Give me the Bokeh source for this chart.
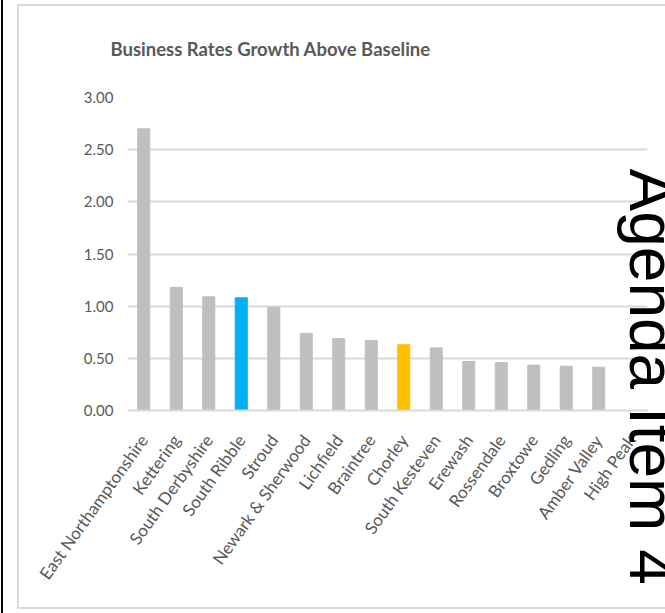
from bokeh.plotting import figure
from bokeh.models import (ColumnDataSource, Range1d, FactorRange, Title,
                          FixedTicker, NumeralTickFormatter)
from bokeh.embed import file_html
from bokeh.resources import INLINE

# ---- data ----
councils = ["East Northamptonshire", "Kettering", "South Derbyshire", "South Ribble",
            "Stroud", "Newark & Sherwood", "Lichfield", "Braintree", "Chorley",
            "South Kesteven", "Erewash", "Rossendale", "Broxtowe", "Gedling",
            "Amber Valley", "High Peak"]
growth = [2.70, 1.18, 1.09, 1.08, 0.99, 0.74, 0.69, 0.67, 0.63,
          0.60, 0.47, 0.46, 0.435, 0.425, 0.415, float("nan")]
y_ticks = [0.0, 0.5, 1.0, 1.5, 2.0, 2.5, 3.0]
title_text = "Business Rates Growth Above Baseline"
stamp_text = "Agenda Item 4"

# ---- styles ----
BAR = "#BFBFBF"
highlight = {"South Ribble": "#00B0F0", "Chorley": "#FFC000"}
TEXT = "#595959"
GRID = "#D9D9D9"
colors = [highlight.get(c, BAR) for c in councils]

src = ColumnDataSource(dict(council=councils, growth=growth, color=colors))

# page decorations (black page edge + light chart border) painted behind the transparent canvas border
page_bg = ", ".join([
    "linear-gradient(#000,#000) 1px 0px / 2px 100% no-repeat",
    f"linear-gradient({GRID},{GRID}) 17px 4px / 2px 605px no-repeat",
    f"linear-gradient({GRID},{GRID}) 17px 4px / 700px 2px no-repeat",
    f"linear-gradient({GRID},{GRID}) 17px 607px / 700px 2px no-repeat",
    "#ffffff",
])

p = figure(x_range=FactorRange(*councils), y_range=Range1d(0, 3),
           width=665, height=613, output_backend="svg", toolbar_location=None,
           min_border_left=127, min_border_right=18,
           min_border_top=97, min_border_bottom=203,
           styles={"background": page_bg})
p.border_fill_alpha = 0

p.vbar(x="council", top="growth", width=0.37, color="color", source=src)

p.outline_line_color = None
p.xgrid.grid_line_color = None
p.ygrid.grid_line_color = GRID
p.ygrid.grid_line_width = 2

p.yaxis.ticker = FixedTicker(ticks=y_ticks)
p.yaxis.formatter = NumeralTickFormatter(format="0.00")
p.yaxis.axis_line_color = None
p.yaxis.major_tick_line_color = None
p.yaxis.minor_tick_line_color = None
p.yaxis.major_label_text_font = "Lato"
p.yaxis.major_label_text_font_size = "15px"
p.yaxis.major_label_text_color = TEXT
p.yaxis.major_label_standoff = 8

p.xaxis.axis_line_color = GRID
p.xaxis.axis_line_width = 2
p.xaxis.major_tick_line_color = None
p.xaxis.major_label_orientation = 0.95
p.xaxis.major_label_text_font = "Lato"
p.xaxis.major_label_text_font_size = "17px"
p.xaxis.major_label_text_color = TEXT
p.xaxis.major_label_standoff = 20

# chart title
p.title.text = title_text
p.title.align = "left"
p.title.vertical_align = "top"
p.title.offset = -17
p.title.standoff = 72
p.title.text_font = "Lato"
p.title.text_font_style = "bold"
p.title.text_font_size = "18.5px"
p.title.text_color = TEXT

# document stamp, reading top to bottom on the right (partly off the page, as in the scan)
p.add_layout(Title(text=stamp_text, align="left", vertical_align="bottom",
                   offset=71, standoff=-63, text_font="Liberation Sans",
                   text_font_style="normal", text_font_size="64px",
                   text_color="black"), "right")

open("out.html", "w").write(file_html(p, INLINE))
